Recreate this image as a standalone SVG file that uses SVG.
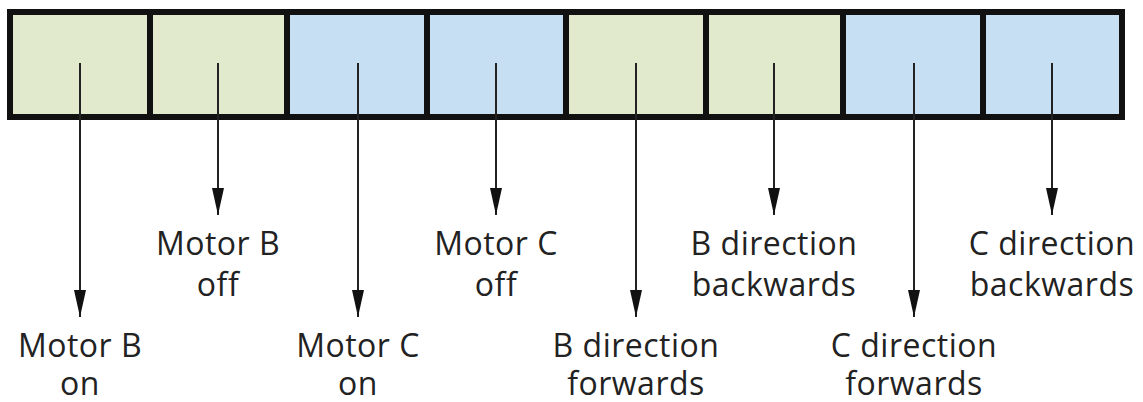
<svg xmlns="http://www.w3.org/2000/svg" width="1143" height="402" viewBox="0 0 1143 402">
<defs>
<style>
.g{fill:#e2eace}
.b{fill:#c6dff2}
.cell{stroke:#111;stroke-width:6}
.ln{stroke:#222;stroke-width:2;fill:none}
text{font-family:"Open Sans","Noto Sans","DejaVu Sans",sans-serif;font-size:32px;letter-spacing:0.5px;fill:#222;text-anchor:middle}
</style>
<marker id="arr" viewBox="0 0 27 12" refX="27" refY="6" markerWidth="27" markerHeight="12" markerUnits="userSpaceOnUse" orient="auto">
<path d="M0,0 L27,6 L0,12 Z" fill="#111"/>
</marker>
</defs>
<rect width="1143" height="402" fill="#fff"/>
<g id="register">
<g id="cell1"><rect class="g cell" x="10" y="12" width="140" height="105"/></g>
<g id="cell2"><rect class="g cell" x="150" y="12" width="137" height="105"/></g>
<g id="cell3"><rect class="b cell" x="287" y="12" width="140" height="105"/></g>
<g id="cell4"><rect class="b cell" x="427" y="12" width="139" height="105"/></g>
<g id="cell5"><rect class="g cell" x="566" y="12" width="140" height="105"/></g>
<g id="cell6"><rect class="g cell" x="706" y="12" width="137" height="105"/></g>
<g id="cell7"><rect class="b cell" x="843" y="12" width="140" height="105"/></g>
<g id="cell8"><rect class="b cell" x="983" y="12" width="139" height="105"/></g>
</g>
<g id="connectors">
<path class="ln" d="M80,63 V317" marker-end="url(#arr)"/>
<path class="ln" d="M218,63 V215" marker-end="url(#arr)"/>
<path class="ln" d="M358,63 V317" marker-end="url(#arr)"/>
<path class="ln" d="M496,63 V215" marker-end="url(#arr)"/>
<path class="ln" d="M636,63 V317" marker-end="url(#arr)"/>
<path class="ln" d="M774,63 V215" marker-end="url(#arr)"/>
<path class="ln" d="M914,63 V317" marker-end="url(#arr)"/>
<path class="ln" d="M1052,63 V215" marker-end="url(#arr)"/>
</g>
<g id="label1"><text x="80" y="357">Motor B</text><text x="80" y="395">on</text></g>
<g id="label2"><text x="218" y="255">Motor B</text><text x="218" y="296">off</text></g>
<g id="label3"><text x="358" y="357">Motor C</text><text x="358" y="395">on</text></g>
<g id="label4"><text x="496" y="255">Motor C</text><text x="496" y="296">off</text></g>
<g id="label5"><text x="636" y="357">B direction</text><text x="636" y="395">forwards</text></g>
<g id="label6"><text x="774" y="255">B direction</text><text x="774" y="296">backwards</text></g>
<g id="label7"><text x="914" y="357">C direction</text><text x="914" y="395">forwards</text></g>
<g id="label8"><text x="1052" y="255">C direction</text><text x="1052" y="296">backwards</text></g>
</svg>
